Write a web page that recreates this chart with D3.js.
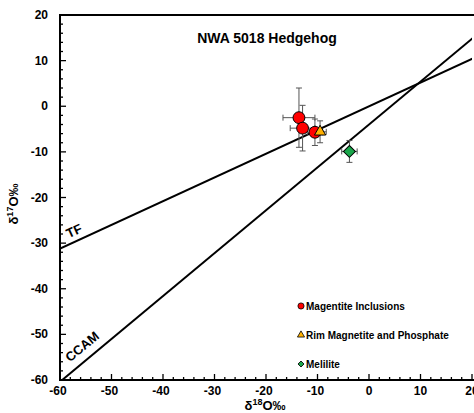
<!DOCTYPE html>
<html>
<head>
<meta charset="utf-8">
<script src="https://cdn.jsdelivr.net/npm/d3@7"></script>
<style>
  body { margin: 0; background: #fff; }
  text { font-family: "Liberation Sans", Arial, sans-serif; font-weight: bold; }
</style>
</head>
<body>
<svg id="chart" width="474" height="413"></svg>
<script>
// data (delta 18O, delta 17O, with 1-sigma bars)
var magInclusions = [
  { x: -13.6, y: -2.5, ex: 3.1, ey: 6.5 },
  { x: -12.9, y: -4.8, ex: 2.4, ey: 5.0 },
  { x: -10.5, y: -5.7, ex: 1.5, ey: 2.9 }
];
var rimMagnetite = [{ x: -9.5, y: -5.6, ex: 1.2, ey: 2.4 }];
var melilite = [{ x: -3.8, y: -9.9, ex: 1.5, ey: 2.4 }];
var xTicks = [-60, -50, -40, -30, -20, -10, 0, 10, 20];
var yTicks = [-60, -50, -40, -30, -20, -10, 0, 10, 20];
var legendItems = ["Magentite Inclusions", "Rim Magnetite and Phosphate", "Melilite"];
// reference lines: TF slope 0.52, CCAM slope 0.94
var tfLine = { slope: 0.52, icpt: 0 };
var ccamLine = { slope: 0.94, icpt: -4.0 };

var svg = d3.select('#chart');
var pLeft = 60, pRight = 472, pTop = 15, pBottom = 380;
var x = d3.scaleLinear().domain([-60, 20]).range([pLeft, pRight]);
var y = d3.scaleLinear().domain([-60, 20]).range([pBottom, pTop]);

var defs = svg.append('defs');
defs.append('clipPath').attr('id', 'clip')
  .append('rect').attr('x', pLeft).attr('y', pTop).attr('width', pRight - pLeft).attr('height', pBottom - pTop);

// frame
svg.append('path')
  .attr('d', 'M' + (pRight + 10) + ',' + pTop + 'H' + pLeft + 'V' + pBottom + 'H' + (pRight + 10))
  .attr('fill', 'none').attr('stroke', '#000').attr('stroke-width', 2);

// ticks (inward)
var minor = d3.range(-60, 21, 2);
minor.forEach(function(v) {
  var major = v % 10 === 0;
  var len = major ? 6 : 3;
  svg.append('line').attr('x1', pLeft).attr('x2', pLeft + len)
    .attr('y1', y(v)).attr('y2', y(v)).attr('stroke', '#000').attr('stroke-width', 1.3);
  svg.append('line').attr('y1', pBottom).attr('y2', pBottom - len)
    .attr('x1', x(v)).attr('x2', x(v)).attr('stroke', '#000').attr('stroke-width', 1.3);
});

svg.selectAll('.ylab').data(yTicks).enter().append('text')
  .attr('x', 48).attr('y', function(d) { return y(d) + 4; })
  .attr('text-anchor', 'end').attr('font-size', 12).text(function(d) { return d; });
svg.selectAll('.xlab').data(xTicks).enter().append('text')
  .attr('x', function(d) { return x(d) + (d < 0 ? -2 : 0); }).attr('y', 395)
  .attr('text-anchor', 'middle').attr('font-size', 12).text(function(d) { return d; });

// axis titles
var xt = svg.append('text').attr('x', 265).attr('y', 410).attr('text-anchor', 'middle').attr('font-size', 13);
xt.append('tspan').text('δ');
xt.append('tspan').attr('font-size', 9).attr('dy', -5).text('18');
xt.append('tspan').attr('dy', 5).text('O‰');
var yt = svg.append('text').attr('transform', 'translate(18,204) rotate(-90)').attr('text-anchor', 'middle').attr('font-size', 13);
yt.append('tspan').text('δ');
yt.append('tspan').attr('font-size', 9).attr('dy', -5).text('17');
yt.append('tspan').attr('dy', 5).text('O‰');

// title
svg.append('text').attr('x', 267).attr('y', 43).attr('text-anchor', 'middle').attr('font-size', 14)
  .text('NWA 5018 Hedgehog');

// reference lines
var g = svg.append('g').attr('clip-path', 'url(#clip)');
[tfLine, ccamLine].forEach(function(l) {
  g.append('line')
    .attr('x1', x(-70)).attr('y1', y(l.slope * -70 + l.icpt))
    .attr('x2', x(30)).attr('y2', y(l.slope * 30 + l.icpt))
    .attr('stroke', '#000').attr('stroke-width', 2);
});
function lineAngle(l) {
  return Math.atan2(y(0) - y(l.slope), x(1) - x(0)) * 180 / Math.PI;
}
svg.append('text').attr('transform', 'translate(76,235) rotate(' + (-lineAngle(tfLine)) + ')')
  .attr('text-anchor', 'middle').attr('font-size', 13).text('TF');
svg.append('text').attr('transform', 'translate(85,350) rotate(' + (-lineAngle(ccamLine)) + ')')
  .attr('text-anchor', 'middle').attr('font-size', 13).text('CCAM');

// error bars
function errorBars(data) {
  data.forEach(function(d) {
    var eg = svg.append('g').attr('stroke', '#555').attr('stroke-width', 1);
    eg.append('line').attr('x1', x(d.x)).attr('x2', x(d.x)).attr('y1', y(d.y + d.ey)).attr('y2', y(d.y - d.ey));
    eg.append('line').attr('y1', y(d.y)).attr('y2', y(d.y)).attr('x1', x(d.x - d.ex)).attr('x2', x(d.x + d.ex));
    [d.y + d.ey, d.y - d.ey].forEach(function(v) {
      eg.append('line').attr('x1', x(d.x) - 3).attr('x2', x(d.x) + 3).attr('y1', y(v)).attr('y2', y(v));
    });
    [d.x + d.ex, d.x - d.ex].forEach(function(v) {
      eg.append('line').attr('y1', y(d.y) - 3).attr('y2', y(d.y) + 3).attr('x1', x(v)).attr('x2', x(v));
    });
  });
}
errorBars(magInclusions);
errorBars(rimMagnetite);
errorBars(melilite);

var circ = d3.symbol().type(d3.symbolCircle);
var tri = d3.symbol().type(d3.symbolTriangle);
var sq = d3.symbol().type(d3.symbolSquare);

svg.selectAll('.mag').data(magInclusions).enter().append('path')
  .attr('d', circ.size(110)())
  .attr('transform', function(d) { return 'translate(' + x(d.x) + ',' + y(d.y) + ')'; })
  .attr('fill', '#ff0000').attr('stroke', '#000').attr('stroke-width', 1);
svg.selectAll('.rim').data(rimMagnetite).enter().append('path')
  .attr('d', tri.size(55)())
  .attr('transform', function(d) { return 'translate(' + x(d.x) + ',' + y(d.y) + ')'; })
  .attr('fill', '#ffb000').attr('stroke', '#000').attr('stroke-width', 1);
svg.selectAll('.mel').data(melilite).enter().append('path')
  .attr('d', sq.size(72)())
  .attr('transform', function(d) { return 'translate(' + x(d.x) + ',' + y(d.y) + ') rotate(45)'; })
  .attr('fill', '#1aa64a').attr('stroke', '#000').attr('stroke-width', 1);

// legend
var legendSyms = [
  { sym: circ.size(30)(), fill: '#ff0000', rot: 0 },
  { sym: tri.size(22)(), fill: '#ffb000', rot: 0 },
  { sym: sq.size(18)(), fill: '#1aa64a', rot: 45 }
];
legendItems.forEach(function(name, i) {
  var ly = 306 + i * 29;
  svg.append('path').attr('d', legendSyms[i].sym)
    .attr('transform', 'translate(301,' + ly + ') rotate(' + legendSyms[i].rot + ')')
    .attr('fill', legendSyms[i].fill).attr('stroke', '#000').attr('stroke-width', 0.8);
  svg.append('text').attr('x', 306).attr('y', ly + 4).attr('font-size', 10).text(name);
});
</script>
</body>
</html>
